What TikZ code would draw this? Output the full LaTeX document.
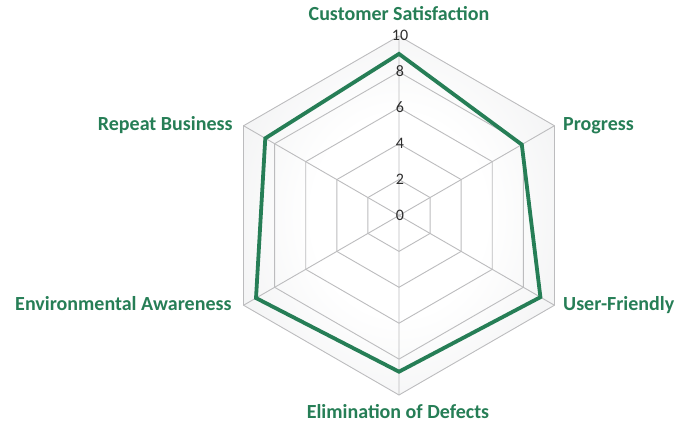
\documentclass[tikz,border=0pt]{standalone}
\usepackage{fontspec}
\setmainfont{Carlito}
\usetikzlibrary{shapes.geometric, positioning}

\definecolor{webgreen}{RGB}{38,126,86}
\definecolor{webgrid}{RGB}{188,188,190}
\definecolor{webfill}{RGB}{226,227,229}
\definecolor{ticktext}{RGB}{45,45,45}
\pgfdeclareradialshading{webshade}{\pgfpointorigin}{color(0bp)=(white); color(14bp)=(white); color(50bp)=(webfill)}

\begin{document}
\begin{tikzpicture}[x=1pt,y=1pt,node distance=35.9pt,on grid,
    ring/.style={regular polygon, regular polygon sides=6, shape border rotate=30,
                 draw=webgrid, line width=0.9pt, inner sep=0pt, outer sep=0pt},
    tick/.style={text=ticktext, font=\fontsize{16}{16}\selectfont, inner sep=0pt},
    axislabel/.style={text=webgreen, font=\fontsize{20}{20}\selectfont\bfseries, inner sep=0pt},
    data/.style={draw=webgreen, line width=3.8pt, line join=miter}]
    \useasboundingbox (-399,-211.5) rectangle (279,215.5);

    % web rings
    \node[ring, shade, shading=webshade, minimum size=359pt] (r10) at (0,0) {};
    \node[ring, minimum size=287.2pt] (r8) at (0,0) {};
    \node[ring, minimum size=215.4pt] (r6) at (0,0) {};
    \node[ring, minimum size=143.6pt] (r4) at (0,0) {};
    \node[ring, minimum size=71.8pt] (r2) at (0,0) {};
    \coordinate (O) at (0,0);
    \draw[webgrid, line width=0.9pt]
        (O) -- (r10.90)  (O) -- (r10.30)  (O) -- (r10.-30)
        (O) -- (r10.-90) (O) -- (r10.210) (O) -- (r10.150);

    % data
    \coordinate (cs) at (90:161.6);
    \coordinate (pg) at (30:141.8);
    \coordinate (uf) at (-30:163.3);
    \coordinate (ed) at (-90:156.2);
    \coordinate (ea) at (210:165.1);
    \coordinate (rb) at (150:154.4);
    \draw[data] (cs) -- (pg) -- (uf) -- (ed) -- (ea) -- (rb) -- cycle;

    % scale
    \node[tick] (t0) at (1,0.5) {0};
    \node[tick, above=of t0] (t2) {2};
    \node[tick, above=of t2] (t4) {4};
    \node[tick, above=of t4] (t6) {6};
    \node[tick, above=of t6] (t8) {8};
    \node[tick, above=of t8] (t10) {10};

    % axis names
    \node[axislabel, anchor=base] (lcs) at (0,194.8) {Customer Satisfaction};
    \node[axislabel, anchor=base west] (lpg) at (164,84.8) {Progress};
    \node[axislabel, anchor=base west] (luf) at (164,-95.5) {User-Friendly};
    \node[axislabel, anchor=base] (led) at (-1,-203.5) {Elimination of Defects};
    \node[axislabel, anchor=base east] (lea) at (-167.3,-95.2) {Environmental Awareness};
    \node[axislabel, anchor=base east] (lrb) at (-166.3,84.8) {Repeat Business};
\end{tikzpicture}
\end{document}
